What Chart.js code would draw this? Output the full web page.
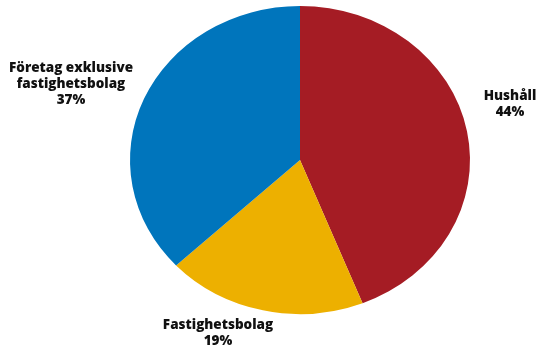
<!DOCTYPE html>
<html><head><meta charset="utf-8">
<script src="https://cdn.jsdelivr.net/npm/chart.js@4/dist/chart.umd.min.js"></script>
<style>html,body{margin:0;padding:0;background:#fff}#wrap{width:545px;height:350px;position:relative}</style>
</head><body><div id="wrap"><canvas id="c" width="545" height="350"></canvas></div>
<script>
const categories = ["Hushåll", "Fastighetsbolag", "Företag exklusive fastighetsbolag"];
const labelLines = [["Hushåll"], ["Fastighetsbolag"], ["Företag exklusive", "fastighetsbolag"]];
const shares = [44, 19, 37];
const colors = ["#A51C24", "#EDB000", "#0075BC"];

const ellipsePlugin = {
  id: 'ellipse',
  beforeDatasetsDraw(chart, args, opts) {
    const arc = chart.getDatasetMeta(0).data[0];
    const cx = arc.x, cy = arc.y;
    const ctx = chart.ctx;
    ctx.save();
    ctx.translate(cx, cy);
    ctx.scale(opts.sx, opts.sy);
    ctx.translate(-cx, -cy);
  },
  afterDatasetsDraw(chart) { chart.ctx.restore(); }
};

const labelPlugin = {
  id: 'pieLabels',
  afterDraw(chart, args, opts) {
    const ctx = chart.ctx;
    const arcs = chart.getDatasetMeta(0).data;
    const cx = arcs[0].x, cy = arcs[0].y;
    ctx.save();
    ctx.fillStyle = '#111';
    ctx.font = opts.font;
    ctx.textAlign = 'center';
    ctx.textBaseline = 'middle';
    arcs.forEach((a, i) => {
      const lines = labelLines[i].concat([shares[i] + '%']);
      const [dx, dy] = opts.offsets[i];
      const lh = opts.lineHeight;
      const top = cy + dy - (lines.length - 1) * lh / 2;
      lines.forEach((t, j) => ctx.fillText(t, cx + dx, top + j * lh));
    });
    ctx.restore();
  }
};

new Chart(document.getElementById('c'), {
  type: 'pie',
  data: {
    labels: categories,
    datasets: [{ data: shares, backgroundColor: colors, borderWidth: 0, hoverOffset: 0 }]
  },
  options: {
    responsive: false,
    animation: false,
    layout: { padding: { left: 140, right: 85, top: 0, bottom: 30 } },
    plugins: {
      legend: { display: false },
      tooltip: { enabled: false },
      ellipse: { sx: 170 / 160, sy: 154 / 160 },
      pieLabels: {
        font: '800 13.5px "Open Sans", sans-serif',
        lineHeight: 16,
        offsets: [[210, -56], [-82, 173], [-229, -76]]
      }
    }
  },
  plugins: [ellipsePlugin, labelPlugin]
});
</script></body></html>
